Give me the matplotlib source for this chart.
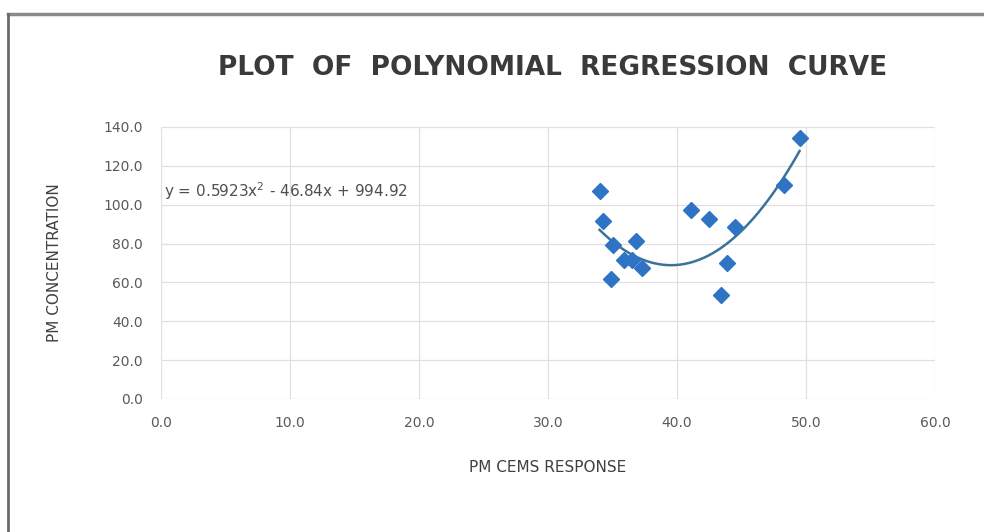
import numpy as np
import matplotlib
matplotlib.use("Agg")
import matplotlib.pyplot as plt
from matplotlib.lines import Line2D

# Data
cems_response = [34.0, 34.3, 35.0, 34.9, 36.85, 35.9, 36.5, 37.3,
                 41.1, 42.5, 44.5, 43.9, 43.4, 48.3, 49.5]
pm_concentration = [107.2, 91.8, 79.3, 61.6, 81.5, 71.5, 71.5, 67.6,
                    97.3, 92.6, 88.4, 70.2, 53.5, 110.1, 134.2]
poly_coeffs = [0.5923, -46.84, 994.92]
equation_label = "y = 0.5923x$^2$ - 46.84x + 994.92"
x_ticks = [0, 10, 20, 30, 40, 50, 60]
y_ticks = [0, 20, 40, 60, 80, 100, 120, 140]

title_text = "PLOT  OF  POLYNOMIAL  REGRESSION  CURVE"
xlabel_text = "PM CEMS RESPONSE"
ylabel_text = "PM CONCENTRATION"

fig = plt.figure(figsize=(9.84, 5.32), dpi=100)
fig.patch.set_facecolor("white")

ax = fig.add_axes([161/984, 1-399/532, (935-161)/984, (399-127)/532])
ax.set_xlim(0, 60)
ax.set_ylim(0, 140)
ax.set_xticks(x_ticks)
ax.set_yticks(y_ticks)
ax.set_xticklabels([f"{v:.1f}" for v in x_ticks])
ax.set_yticklabels([f"{v:.1f}" for v in y_ticks])
for s in ax.spines.values():
    s.set_visible(False)
ax.grid(True, color="#e0e0e0", linewidth=0.9)
ax.set_axisbelow(True)
ax.tick_params(length=0, labelsize=10, labelcolor="#595959")
ax.tick_params(axis="x", pad=12)
ax.tick_params(axis="y", pad=13)

# trendline
xs = np.linspace(min(cems_response), max(cems_response), 200)
ys = np.polyval(poly_coeffs, xs)
ax.plot(xs, ys, color="#3a7298", linewidth=1.8, zorder=2)

ax.plot(cems_response, pm_concentration, linestyle="none", marker="D",
        markersize=8.5, color="#2f73c4", zorder=3)

ax.text(0.2, 107, equation_label, fontsize=11, color="#505050",
        ha="left", va="center")

ax.set_xlabel(xlabel_text, fontsize=11, color="#404040", labelpad=22)
ax.set_ylabel(ylabel_text, fontsize=11, color="#404040", labelpad=30)

fig.text(553/984, 1-68/532, title_text, fontsize=19, fontweight="bold",
         color="#3a3a3a", ha="center", va="center")

# outer frame (top and left borders)
fig.add_artist(Line2D([8/984, 1.0], [1-14/532, 1-14/532], transform=fig.transFigure,
                      color="#8a8a8a", linewidth=2.5))
fig.add_artist(Line2D([8/984, 8/984], [0, 1-14/532], transform=fig.transFigure,
                      color="#6a6a6a", linewidth=2.0))

fig.savefig("out.png", dpi=100, facecolor="white")
